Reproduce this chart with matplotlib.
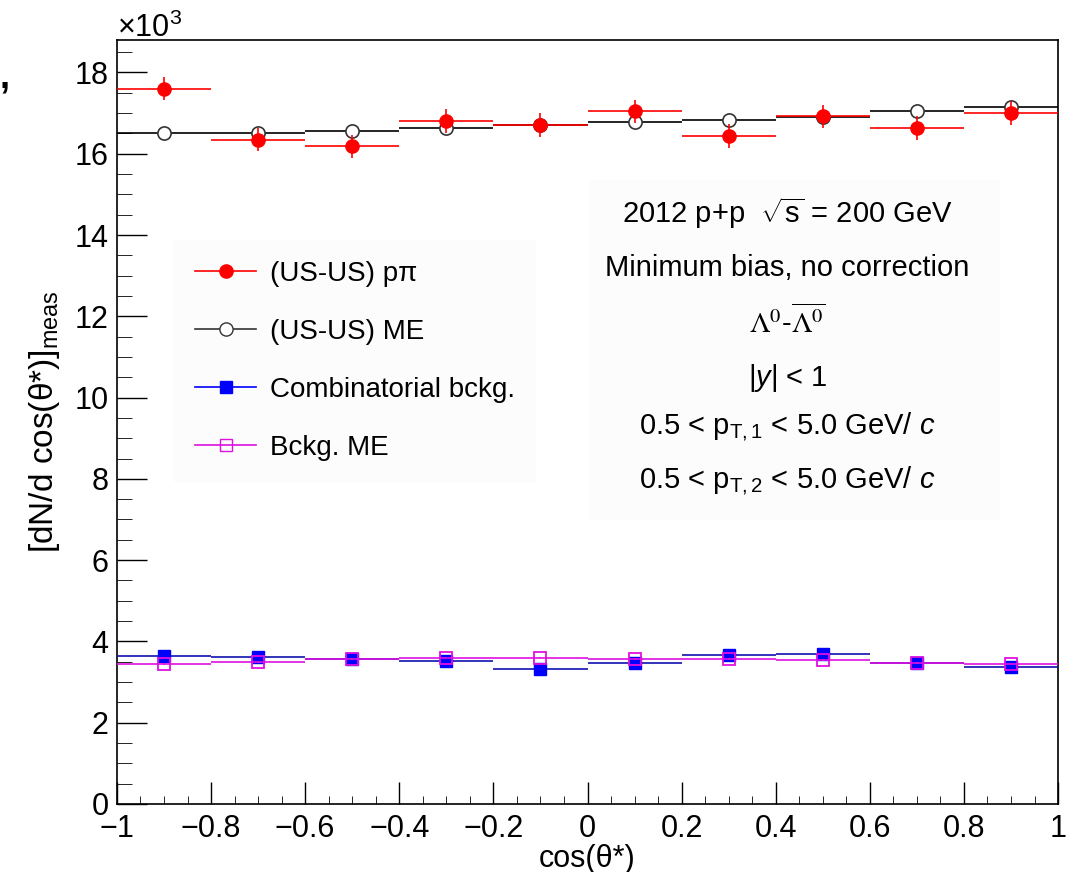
import numpy as np
import matplotlib.pyplot as plt
from matplotlib.ticker import MultipleLocator
from matplotlib.lines import Line2D

plt.rcParams['font.family'] = ['Liberation Sans', 'DejaVu Sans']
plt.rcParams['mathtext.fontset'] = 'custom'
plt.rcParams['mathtext.rm'] = 'Liberation Sans'
plt.rcParams['mathtext.it'] = 'Liberation Sans:italic'

# bin centres of cos(theta*) and yields in units of 10^3
cos_bins = [-0.9, -0.7, -0.5, -0.3, -0.1, 0.1, 0.3, 0.5, 0.7, 0.9]
us_ppi = [17.60, 16.35, 16.18, 16.81, 16.71, 17.04, 16.44, 16.92, 16.63, 17.00]
us_ppi_err = [0.29, 0.29, 0.29, 0.29, 0.29, 0.29, 0.29, 0.29, 0.29, 0.29]
us_me = [16.51, 16.50, 16.57, 16.63, 16.71, 16.78, 16.84, 16.91, 17.04, 17.16]
us_me_err = [0.03] * 10
comb_bkg = [3.65, 3.62, 3.56, 3.52, 3.31, 3.47, 3.67, 3.69, 3.47, 3.36]
comb_bkg_err = [0.08] * 10
bkg_me = [3.45, 3.50, 3.56, 3.60, 3.60, 3.57, 3.57, 3.54, 3.47, 3.45]
bkg_me_err = [0.02] * 10
bin_half = 0.1

fig = plt.figure(figsize=(10.79, 8.72), dpi=100)
ax = fig.add_axes([0.1084, 0.0780, 0.8722, 0.8762])

red, blue, mag = '#ff0000', '#0000ff', '#e010e0'

ax.errorbar(cos_bins, us_ppi, xerr=bin_half, yerr=us_ppi_err, fmt='o', color=red,
            elinewidth=1.2, markersize=9.5, zorder=4)
ax.errorbar(cos_bins, us_me, xerr=bin_half, yerr=us_me_err, fmt='o', color='black',
            mfc='white', mec='#333333', elinewidth=1.2, markersize=9.5, markeredgewidth=1.2,
            zorder=3)
ax.errorbar(cos_bins, comb_bkg, xerr=bin_half, yerr=comb_bkg_err, fmt='s', color=blue,
            ecolor='#1010b0', elinewidth=1.2, markersize=8.5, zorder=3)
ax.errorbar(cos_bins, bkg_me, xerr=bin_half, yerr=bkg_me_err, fmt='s', color=mag,
            mfc='none', mec=mag, elinewidth=1.2, markersize=8.5, markeredgewidth=1.3,
            zorder=4)

ax.set_xlim(-1, 1)
ax.set_ylim(0, 18.8)
ax.xaxis.set_minor_locator(MultipleLocator(0.05))
ax.yaxis.set_major_locator(MultipleLocator(2))
ax.yaxis.set_minor_locator(MultipleLocator(0.5))
ax.set_xticks(np.arange(-1, 1.01, 0.2))
ax.set_xticklabels(['\u22121', '\u22120.8', '\u22120.6', '\u22120.4', '\u22120.2', '0',
                    '0.2', '0.4', '0.6', '0.8', '1'])
ax.tick_params(axis='both', which='major', direction='in', labelsize=22, width=1)
ax.tick_params(axis='y', which='major', length=21.5, pad=6)
ax.tick_params(axis='y', which='minor', direction='in', length=11)
ax.tick_params(axis='x', which='major', length=16, pad=7)
ax.tick_params(axis='x', which='minor', direction='in', length=6)
for s in ax.spines.values():
    s.set_linewidth(1.2)

ax.set_xlabel('cos(\u03b8*)', fontsize=22, labelpad=0)
ax.set_ylabel('[dN/d cos(\u03b8*)]$_{\\rm meas}$', fontsize=24, labelpad=9)
ax.text(0.0, 1.004, '\u00d710$^{3}$', transform=ax.transAxes, fontsize=22,
        ha='left', va='baseline')

handles = [
    Line2D([], [], color=red, marker='o', markersize=9.5, lw=1.2),
    Line2D([], [], color='#333333', marker='o', mfc='white', markersize=9.5, lw=1.2),
    Line2D([], [], color=blue, marker='s', markersize=8.5, lw=1.2),
    Line2D([], [], color=mag, marker='s', mfc='none', markersize=8.5, lw=1.2),
]
labels = ['(US-US) p\u03c0', '(US-US) ME', 'Combinatorial bckg.', 'Bckg. ME']
leg = ax.legend(handles, labels, loc='upper left', bbox_to_anchor=(0.061, 0.738),
                fontsize=20, frameon=True, handlelength=2.2, labelspacing=1.15,
                borderpad=0.75, handletextpad=0.5, borderaxespad=0)
leg.get_frame().set_facecolor('#fcfcfc')
leg.get_frame().set_edgecolor('none')
leg.get_frame().set_alpha(1)
leg.get_frame().set_boxstyle('square', pad=0)

# info box
ax.add_patch(plt.Rectangle((0.005, 6.99), 0.872, 8.36, facecolor='#fcfcfc',
                           edgecolor='none', zorder=1))
cx = 0.425
fs = 21
ax.text(cx, 14.54, r'2012 p+p  $\sqrt{\rm s}$ = 200 GeV', fontsize=fs, ha='center', va='center')
ax.text(cx, 13.19, 'Minimum bias, no correction', fontsize=fs, ha='center', va='center')
ax.text(cx, 11.86, r'$\Lambda^{0}$-$\overline{\Lambda^{0}}$', fontsize=fs, ha='center',
        va='center', math_fontfamily='stix')
ax.text(cx, 10.48, r'|$y$| < 1', fontsize=fs, ha='center', va='center')
ax.text(cx, 9.30, r'0.5 < p$_{\rm T,1}$ < 5.0 GeV/ $c$', fontsize=fs, ha='center', va='center')
ax.text(cx, 7.95, r'0.5 < p$_{\rm T,2}$ < 5.0 GeV/ $c$', fontsize=fs, ha='center', va='center')

fig.text(0.0, 0.91, ',', fontsize=26, fontweight='bold', ha='left', va='center')

fig.savefig('out.png', dpi=100)
